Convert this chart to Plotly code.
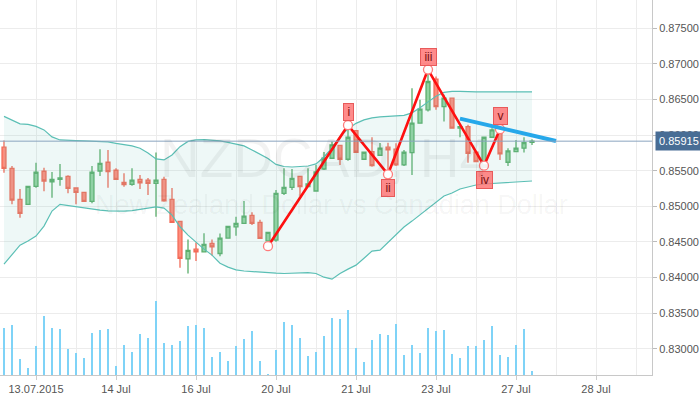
import plotly.graph_objects as go

# ---- data (4H candles, ordinal positions) ----
idx = list(range(67))
opens = [0.85830,0.85534,0.85098,0.85027,0.85281,0.85492,0.85345,0.85379,0.85421,0.85257,
         0.85196,0.85070,0.85496,0.85619,0.85506,0.85337,0.85309,0.85379,0.85369,0.85323,
         0.85379,0.85098,0.84788,0.84261,0.84398,0.84360,0.84478,0.84337,0.84553,0.84712,
         0.84760,0.84872,0.84774,0.84515,0.84525,0.85182,0.85267,0.85421,0.85275,0.85215,
         0.85524,0.85675,0.85855,0.85661,0.86063,0.85661,0.85768,0.85717,0.85830,0.85802,
         0.85581,0.85754,0.86168,0.86355,0.86787,0.86401,0.86519,0.86097,0.86120,0.85759,
         0.85613,0.85970,0.86073,0.85619,0.85768,0.85816,0.85900]
highs = [0.85923,0.85566,0.85243,0.85290,0.85613,0.85543,0.85482,0.85595,0.85436,0.85267,
         0.85200,0.85566,0.85802,0.85792,0.85534,0.85464,0.85534,0.85440,0.85398,0.85754,
         0.85416,0.85257,0.84792,0.84535,0.84492,0.84623,0.84535,0.84619,0.84726,0.84853,
         0.85074,0.84915,0.84810,0.84637,0.85229,0.85534,0.85524,0.85426,0.85534,0.85581,
         0.85764,0.85908,0.85862,0.86111,0.86073,0.85764,0.85970,0.85890,0.85894,0.85886,
         0.85792,0.86660,0.86496,0.86894,0.86824,0.86566,0.86524,0.86125,0.86144,0.85764,
         0.85979,0.86097,0.86083,0.85816,0.85932,0.85970,0.85942]
lows = [0.85472,0.85027,0.84839,0.85020,0.85261,0.85210,0.85120,0.85289,0.85182,0.85027,
        0.85065,0.85041,0.85426,0.85261,0.85374,0.85275,0.85289,0.85243,0.85158,0.84853,
        0.85064,0.84768,0.84135,0.84056,0.84233,0.84356,0.84309,0.84299,0.84550,0.84585,
        0.84750,0.84736,0.84542,0.84504,0.84501,0.85158,0.85229,0.85144,0.85267,0.85207,
        0.85510,0.85665,0.85581,0.85641,0.85754,0.85657,0.85557,0.85707,0.85464,0.85566,
        0.85566,0.85440,0.86165,0.86331,0.86355,0.86190,0.86093,0.85970,0.85613,0.85623,
        0.85604,0.85965,0.85651,0.85566,0.85764,0.85754,0.85860]
closes = [0.85534,0.85088,0.84901,0.85281,0.85478,0.85355,0.85379,0.85398,0.85253,0.85196,
          0.85070,0.85478,0.85604,0.85486,0.85379,0.85303,0.85369,0.85331,0.85323,0.85369,
          0.85078,0.84774,0.84267,0.84380,0.84360,0.84464,0.84430,0.84553,0.84718,0.84760,
          0.84863,0.84760,0.84549,0.84633,0.85182,0.85267,0.85393,0.85275,0.85313,0.85482,
          0.85675,0.85862,0.85661,0.85970,0.85759,0.85759,0.85571,0.85816,0.85792,0.85581,
          0.85759,0.86168,0.86365,0.86753,0.86401,0.86519,0.86097,0.86120,0.85745,0.85627,
          0.85970,0.86073,0.85735,0.85778,0.85816,0.85894,0.85915]
volumes = [1420,1510,490,220,880,1780,1420,1390,790,670,
           520,1270,1360,1390,280,910,700,1240,1120,2230,
           970,910,1030,1480,1510,1420,550,700,430,880,
           1090,1330,430,20,760,1600,1510,1120,580,700,
           1180,1720,1690,1960,820,400,1060,1240,1210,1540,
           610,910,670,1420,1330,1360,640,520,880,880,
           1060,1480,610,550,910,1390,130]
bb_upper = [0.86263,0.86214,0.86158,0.86151,0.86122,0.86073,0.85975,0.85932,0.85923,0.85923,
            0.85918,0.85911,0.85908,0.85904,0.85883,0.85862,0.85848,0.85816,0.85749,0.85665,
            0.85651,0.85721,0.85838,0.85911,0.85932,0.85937,0.85932,0.85918,0.85897,0.85869,
            0.85848,0.85792,0.85728,0.85672,0.85588,0.85559,0.85552,0.85559,0.85566,0.85595,
            0.85693,0.85820,0.85975,0.86087,0.86165,0.86214,0.86242,0.86256,0.86263,0.86263,
            0.86277,0.86313,0.86383,0.86467,0.86545,0.86601,0.86615,0.86615,0.86608,0.86608,
            0.86608,0.86608,0.86608,0.86608,0.86608,0.86608,0.86608]
bb_lower = [0.84187,0.84314,0.84454,0.84511,0.84581,0.84722,0.84933,0.85027,0.85010,0.84989,
            0.84975,0.84961,0.84947,0.84937,0.84933,0.84933,0.84940,0.84957,0.84975,0.84993,
            0.84975,0.84877,0.84712,0.84595,0.84497,0.84398,0.84314,0.84201,0.84145,0.84107,
            0.84091,0.84081,0.84070,0.84064,0.84060,0.84056,0.84060,0.84070,0.84067,0.84056,
            0.84004,0.83976,0.84056,0.84117,0.84173,0.84271,0.84370,0.84384,0.84497,0.84609,
            0.84708,0.84792,0.84877,0.84975,0.85060,0.85144,0.85186,0.85243,0.85271,0.85299,
            0.85313,0.85320,0.85327,0.85334,0.85341,0.85348,0.85355]

wave_pos = [33, 43, 48, 53, 60, 62]
wave_val = [0.84440, 0.86139, 0.85449, 0.86921, 0.85570, 0.86083]
wave_labels = ["", "i", "ii", "iii", "iv", "v"]
wave_label_above = [None, True, False, True, False, True]

trend_pos = [57, 69]
trend_val = [0.86232, 0.85918]

LAST_PRICE = 0.85915
tick_pos = [4, 14, 24, 34, 44, 54, 64, 74]
tick_text = ["13.07.2015", "14 Jul", "16 Jul", "20 Jul", "21 Jul", "23 Jul", "27 Jul", "28 Jul"]
minor_pos = [9, 19, 29, 39, 49, 59, 69, 79]
price_ticks = [0.830, 0.835, 0.840, 0.845, 0.850, 0.855, 0.860, 0.865, 0.870, 0.875]

FONT = "Liberation Sans, Arial, sans-serif"

fig = go.Figure()

# Bollinger band
fig.add_trace(go.Scatter(x=idx, y=bb_upper, mode="lines",
                         line=dict(color="#5bbfb5", width=1.2), hoverinfo="skip", showlegend=False))
fig.add_trace(go.Scatter(x=idx, y=bb_lower, mode="lines", fill="tonexty",
                         fillcolor="rgba(120,200,195,0.13)",
                         line=dict(color="#5bbfb5", width=1.2), hoverinfo="skip", showlegend=False))

# Volume
fig.add_trace(go.Bar(x=idx, y=volumes, yaxis="y2", width=0.12,
                     marker=dict(color="#7fd3f7", line=dict(width=0)), showlegend=False))

# Candles
fig.add_trace(go.Candlestick(
    x=idx, open=opens, high=highs, low=lows, close=closes,
    increasing=dict(fillcolor="#92d3a0", line=dict(color="#5aad6a", width=1.3)),
    decreasing=dict(fillcolor="#ff8c7c", line=dict(color="#f26a57", width=1.3)),
    whiskerwidth=0, showlegend=False))

# Elliott wave
fig.add_trace(go.Scatter(x=wave_pos, y=wave_val, mode="lines+markers",
                         line=dict(color="#ff1010", width=2.6),
                         marker=dict(symbol="circle", size=9, color="white",
                                     line=dict(color="#ff7b7b", width=1.3)),
                         showlegend=False))
# Trend line
fig.add_trace(go.Scatter(x=trend_pos, y=trend_val, mode="lines",
                         line=dict(color="#26a8ea", width=4), showlegend=False))

annotations = []
for p, v, t, above in zip(wave_pos, wave_val, wave_labels, wave_label_above):
    if not t:
        continue
    annotations.append(dict(x=p, y=v, xref="x", yref="y", text="\u2009" + t + "\u2009",
                            showarrow=False,
                            yshift=13 if above else -14,
                            font=dict(family=FONT, size=12, color="#7a1010"),
                            bgcolor="rgba(255,110,110,0.8)", bordercolor="#e85a5a",
                            borderwidth=1, borderpad=1))
# watermark
annotations.append(dict(x=325, y=158, xref="paper", yref="paper", text="NZDCAD, H4",
                        showarrow=False, font=dict(family=FONT, size=55, color="rgba(0,0,0,0.05)")))
annotations.append(dict(x=332, y=205, xref="paper", yref="paper",
                        text="New Zealand Dollar vs Canadian Dollar",
                        showarrow=False, font=dict(family=FONT, size=27, color="rgba(0,0,0,0.05)")))
# price label
annotations.append(dict(x=1, y=LAST_PRICE, xref="paper", yref="y", text="0.85915",
                        xanchor="left", showarrow=False, xshift=3,
                        font=dict(family=FONT, size=11, color="white"),
                        bgcolor="#486d95", borderpad=3))

# convert watermark pixel positions into paper coords
W, H = 700, 394
ML, MR, MT, MB = 0, 48, 0, 19
pw, ph = W - ML - MR, H - MT - MB
for a in annotations:
    if a.get("xref") == "paper" and a["x"] > 1:
        a["x"] = (a["x"] - ML) / pw
        a["y"] = 1 - (a["y"] - MT) / ph

fig.update_layout(
    width=W, height=H,
    margin=dict(l=ML, r=MR, t=MT, b=MB, autoexpand=False),
    paper_bgcolor="white", plot_bgcolor="white",
    font=dict(family=FONT, size=11, color="#555"),
    showlegend=False,
    bargap=0,
    xaxis=dict(range=[-0.5, 81], tickmode="array", tickvals=tick_pos, ticktext=tick_text,
               showgrid=True, gridcolor="#ececec", gridwidth=1,
               minor=dict(tickmode="array", tickvals=minor_pos, showgrid=True,
                          gridcolor="#ececec", gridwidth=1, ticks=""),
               ticks="outside", ticklen=4, tickcolor="#ccc",
               showline=True, linecolor="#c8c8c8", linewidth=1,
               zeroline=False, rangeslider=dict(visible=False), fixedrange=True,
               tickfont=dict(size=11, color="#555")),
    yaxis=dict(range=[0.82630, 0.87898], side="right", tickmode="array",
               tickvals=price_ticks, tickformat=".5f",
               showgrid=True, gridcolor="#ececec", gridwidth=1,
               ticks="outside", ticklen=4, tickcolor="#bbb",
               showline=True, linecolor="#c8c8c8", linewidth=1,
               zeroline=False, tickfont=dict(size=11, color="#555")),
    yaxis2=dict(overlaying="y", range=[0, 11230], visible=False, showgrid=False),
    shapes=[dict(type="line", xref="paper", x0=0, x1=1, yref="y",
                 y0=LAST_PRICE, y1=LAST_PRICE, line=dict(color="#8aa4bf", width=1))],
    annotations=annotations,
)

fig.write_html("out.html", config={"displayModeBar": False},
               post_script="document.body.style.margin='0';document.body.style.overflow='hidden';")
